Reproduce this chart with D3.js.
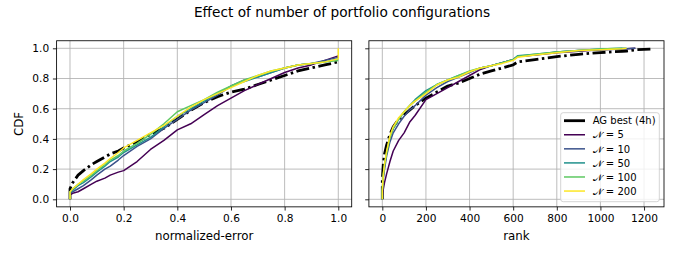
<!DOCTYPE html>
<html><head><meta charset="utf-8">
<script src="https://cdn.jsdelivr.net/npm/d3@7"></script>
<style>
body{margin:0;background:#fff;}
text{font-family:"DejaVu Sans",sans-serif;fill:#000;}
</style></head>
<body><svg id="c" width="685" height="257"></svg>
<script>
// ---- data ----
const title = "Effect of number of portfolio configurations";
const seriesNames = ["AG best (4h)", "\u{1D4A9} = 5", "\u{1D4A9} = 10", "\u{1D4A9} = 50", "\u{1D4A9} = 100", "\u{1D4A9} = 200"];
const seriesColors = ["#000000", "#440154", "#3b528b", "#21918c", "#5ec962", "#fde725"];

const errX = [0, 0, 0.01, 0.03, 0.05, 0.08, 0.10, 0.13, 0.15, 0.18, 0.20, 0.25, 0.30, 0.35, 0.40, 0.45, 0.50, 0.55, 0.60, 0.65, 0.70, 0.75, 0.80, 0.85, 0.90, 0.95, 1.00, 1.00];
const errAG   = [0, 0.07, 0.11, 0.16, 0.19, 0.23, 0.25, 0.28, 0.30, 0.32, 0.34, 0.38, 0.43, 0.47, 0.53, 0.59, 0.64, 0.68, 0.71, 0.73, 0.76, 0.79, 0.82, 0.85, 0.87, 0.89, 0.91, 0.91];
const errN5   = [0, 0.03, 0.04, 0.05, 0.07, 0.10, 0.12, 0.14, 0.16, 0.18, 0.19, 0.25, 0.33, 0.39, 0.46, 0.50, 0.56, 0.62, 0.67, 0.72, 0.76, 0.80, 0.84, 0.87, 0.89, 0.92, 0.95, 0.95];
const errN10  = [0, 0.04, 0.05, 0.07, 0.09, 0.13, 0.16, 0.20, 0.22, 0.26, 0.29, 0.35, 0.40, 0.47, 0.53, 0.59, 0.64, 0.69, 0.75, 0.79, 0.81, 0.84, 0.87, 0.89, 0.90, 0.92, 0.94, 0.94];
const errN50  = [0, 0.05, 0.06, 0.09, 0.11, 0.15, 0.18, 0.22, 0.25, 0.28, 0.31, 0.36, 0.41, 0.48, 0.55, 0.60, 0.65, 0.70, 0.75, 0.78, 0.81, 0.84, 0.87, 0.89, 0.90, 0.91, 0.93, 0.93];
const errN100 = [0, 0.05, 0.07, 0.10, 0.12, 0.16, 0.19, 0.23, 0.26, 0.29, 0.32, 0.37, 0.43, 0.50, 0.58, 0.62, 0.66, 0.71, 0.75, 0.79, 0.82, 0.85, 0.87, 0.89, 0.90, 0.91, 0.92, 0.92];
const errN200 = [0, 0.05, 0.07, 0.10, 0.13, 0.17, 0.20, 0.24, 0.27, 0.31, 0.34, 0.39, 0.44, 0.49, 0.55, 0.61, 0.66, 0.70, 0.74, 0.78, 0.82, 0.85, 0.87, 0.89, 0.90, 0.91, 0.93, 1.00];

const rankX = [0, 0, 5, 10, 20, 35, 50, 75, 100, 125, 150, 200, 250, 300, 350, 400, 450, 500, 550, 600, 620, 700, 800, 900, 1000, 1100, 1120, 1160, 1230];
const rankAG   = [0, 0.13, 0.24, 0.30, 0.36, 0.43, 0.48, 0.53, 0.56, 0.59, 0.62, 0.67, 0.71, 0.75, 0.77, 0.80, 0.83, 0.85, 0.87, 0.89, 0.91, 0.925, 0.945, 0.96, 0.972, 0.98, 0.982, 0.99, 0.995];
const rankN5   = [0, 0.02, 0.07, 0.11, 0.17, 0.25, 0.32, 0.39, 0.44, 0.51, 0.555, 0.66, 0.70, 0.74, 0.78, 0.82, 0.86, 0.885, 0.905, 0.925, 0.945, 0.955, 0.97, 0.98, 0.99, 0.995, 0.997, 1.0, null];
const rankN10  = [0, 0.05, 0.14, 0.20, 0.29, 0.38, 0.44, 0.50, 0.55, 0.59, 0.62, 0.69, 0.74, 0.78, 0.81, 0.84, 0.87, 0.885, 0.905, 0.925, 0.945, 0.955, 0.975, 0.985, 0.99, 0.995, 0.997, 1.0, null];
const rankN50  = [0, 0.06, 0.16, 0.22, 0.31, 0.41, 0.47, 0.53, 0.58, 0.62, 0.66, 0.72, 0.76, 0.79, 0.82, 0.845, 0.87, 0.885, 0.905, 0.925, 0.95, 0.96, 0.975, 0.985, 0.995, 1.0, 1.0, null, null];
const rankN100 = [0, 0.06, 0.17, 0.23, 0.31, 0.41, 0.47, 0.53, 0.58, 0.62, 0.65, 0.71, 0.76, 0.79, 0.82, 0.85, 0.87, 0.885, 0.905, 0.925, 0.945, 0.96, 0.975, 0.985, 0.995, 1.0, null, null, null];
const rankN200 = [0, 0.06, 0.17, 0.23, 0.32, 0.42, 0.48, 0.54, 0.58, 0.62, 0.65, 0.70, 0.757, 0.79, 0.81, 0.845, 0.87, 0.885, 0.90, 0.92, 0.94, 0.955, 0.97, 0.985, 0.99, 0.997, 1.0, null, null];

const errTicks = [0, 0.2, 0.4, 0.6, 0.8, 1.0];
const rankTicks = [0, 200, 400, 600, 800, 1000, 1200];
const cdfTicks = [0, 0.2, 0.4, 0.6, 0.8, 1.0];

// ---- drawing ----
const svg = d3.select("#c");
const fs = 10.6;   // tick labels
const lfs = 11.8;  // axis labels
svg.append("text").attr("x", 342).attr("y", 16.8).attr("text-anchor", "middle")
  .style("font-size", "13.7px").text(title);

const yTop = 40.75, yBot = 206.85;
const y = d3.scaleLinear().domain([-0.05, 1.05]).range([yBot, yTop]);

function panel(x, xs, ys, ticks, fmt, xlabel, showY) {
  const g = svg.append("g");
  const [x0, x1] = x.range();
  g.selectAll(".gx").data(ticks).enter().append("line")
    .attr("x1", d => x(d)).attr("x2", d => x(d)).attr("y1", yTop).attr("y2", yBot)
    .attr("stroke", "#b0b0b0").attr("stroke-width", 0.85);
  g.selectAll(".gy").data(cdfTicks).enter().append("line")
    .attr("x1", x0).attr("x2", x1).attr("y1", d => y(d)).attr("y2", d => y(d))
    .attr("stroke", "#b0b0b0").attr("stroke-width", 0.85);
  ys.forEach((arr, i) => {
    const pts = xs.map((xv, j) => [xv, arr[j]]);
    const line = d3.line().defined(d => d[1] != null).x(d => x(d[0])).y(d => y(d[1]));
    const p = g.append("path").datum(pts).attr("d", line).attr("fill", "none")
      .attr("stroke", seriesColors[i]).attr("stroke-linejoin", "round");
    if (i === 0) p.attr("stroke-width", 2.8).attr("stroke-dasharray", "13,3.5,2.5,3.5");
    else p.attr("stroke-width", 1.5);
  });
  const xa = g.append("g").attr("transform", `translate(0,${yBot})`)
    .call(d3.axisBottom(x).tickValues(ticks).tickFormat(fmt).tickSizeOuter(0).tickSize(3.7).tickPadding(3.7));
  xa.select(".domain").remove();
  xa.selectAll("text").style("font-size", fs + "px").style("font-family", "DejaVu Sans");
  const ya = g.append("g").attr("transform", `translate(${x0},0)`)
    .call(d3.axisLeft(y).tickValues(cdfTicks).tickFormat(showY ? d3.format(".1f") : "").tickSizeOuter(0).tickSize(3.7).tickPadding(3.7));
  ya.select(".domain").remove();
  ya.selectAll("text").style("font-size", fs + "px").style("font-family", "DejaVu Sans");
  g.selectAll(".tick line").attr("stroke", "#000").attr("stroke-width", 0.85);
  g.append("rect").attr("x", x0).attr("y", yTop).attr("width", x1 - x0).attr("height", yBot - yTop)
    .attr("fill", "none").attr("stroke", "#000").attr("stroke-width", 0.85);
  g.append("text").attr("x", (x0 + x1) / 2).attr("y", 240).attr("text-anchor", "middle")
    .style("font-size", lfs + "px").text(xlabel);
  return g;
}

const xErr = d3.scaleLinear().domain([-0.05, 1.05]).range([56.6, 351.7]);
const xRank = d3.scaleLinear().domain([-61.5, 1291.5]).range([368.9, 664.0]);
panel(xErr, errX, [errAG, errN5, errN10, errN50, errN100, errN200], errTicks, d3.format(".1f"), "normalized-error", true);
panel(xRank, rankX, [rankAG, rankN5, rankN10, rankN50, rankN100, rankN200], rankTicks, d3.format("d"), "rank", false);

svg.append("text").attr("transform", "translate(22.6,124) rotate(-90)").attr("text-anchor", "middle")
  .style("font-size", lfs + "px").text("CDF");

const lg = svg.append("g");
lg.append("rect").attr("x", 560.7).attr("y", 112.7).attr("width", 98.6).attr("height", 89)
  .attr("rx", 2.5).attr("fill", "#fff").attr("fill-opacity", 0.8).attr("stroke", "#cccccc").attr("stroke-width", 0.85);
seriesNames.forEach((n, i) => {
  const cy = 120.7 + i * 14.07;
  lg.append("line").attr("x1", 564).attr("x2", 585).attr("y1", cy).attr("y2", cy)
    .attr("stroke", seriesColors[i]).attr("stroke-width", i === 0 ? 2.8 : 1.5);
  lg.append("text").attr("x", 592.7).attr("y", cy + 3.7).style("font-size", "10px").text(n);
});
</script></body></html>
